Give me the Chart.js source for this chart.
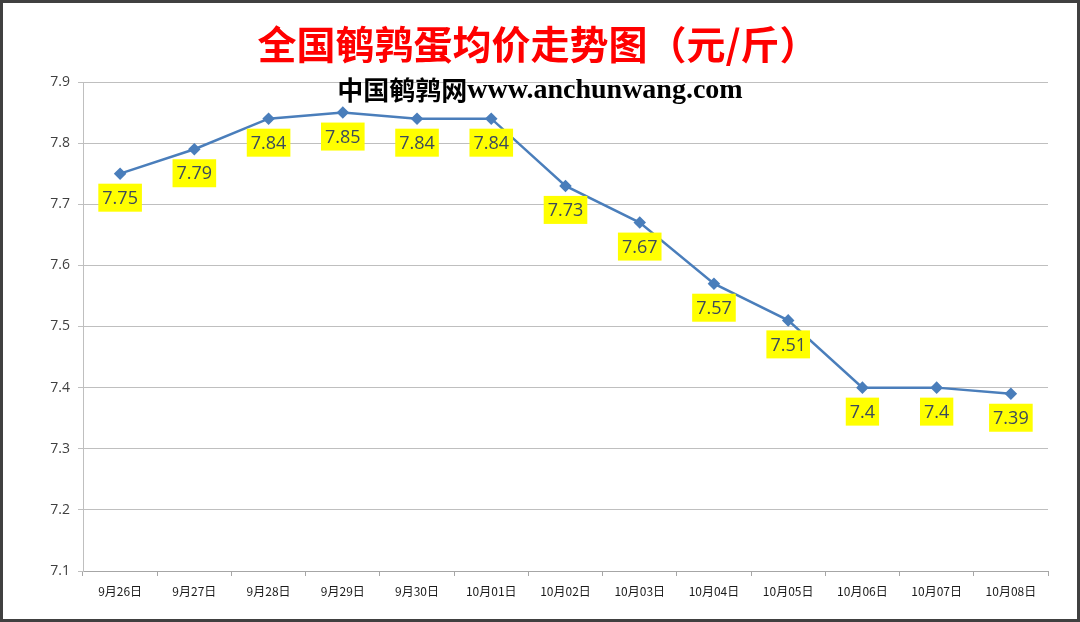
<!DOCTYPE html>
<html>
<head>
<meta charset="utf-8">
<script src="https://cdn.jsdelivr.net/npm/chart.js@4"></script>
<style>
  html, body { margin: 0; padding: 0; background: #fff; }
  #caja { width: 1080px; height: 622px; position: relative; }
</style>
</head>
<body>
<div id="caja"><canvas id="precioChart" width="1080" height="622"></canvas></div>
<script>
const fechas = ['9月26日', '9月27日', '9月28日', '9月29日', '9月30日', '10月01日', '10月02日',
                '10月03日', '10月04日', '10月05日', '10月06日', '10月07日', '10月08日'];
const precios = [7.75, 7.79, 7.84, 7.85, 7.84, 7.84, 7.73, 7.67, 7.57, 7.51, 7.4, 7.4, 7.39];
const ejeY = [7.1, 7.2, 7.3, 7.4, 7.5, 7.6, 7.7, 7.8, 7.9];

const titulo = '全国鹌鹑蛋均价走势图（元/斤）';
const sitioCn = '中国鹌鹑网';
const sitioWeb = 'www.anchunwang.com';

// etiquetas amarillas bajo cada punto + titulos + marco
const extras = {
    id: 'extras',
    afterDatasetsDraw(chart) {
        const ctx = chart.ctx;
        const meta = chart.getDatasetMeta(0);
        ctx.save();
        ctx.font = '18px "Open Sans", "Noto Sans", sans-serif';
        ctx.textAlign = 'center';
        ctx.textBaseline = 'middle';
        meta.data.forEach((p, i) => {
            const txt = String(precios[i]);
            const w = ctx.measureText(txt).width + 8;
            const h = 28;
            const cy = p.y + 24;
            ctx.fillStyle = '#ffff00';
            ctx.fillRect(p.x - w / 2, cy - h / 2, w, h);
            ctx.fillStyle = '#3b4a5c';
            ctx.fillText(txt, p.x, cy + 1);
        });
        ctx.restore();
    },
    afterDraw(chart) {
        const ctx = chart.ctx;
        ctx.save();
        ctx.textBaseline = 'middle';
        ctx.textAlign = 'center';
        ctx.fillStyle = '#ff0000';
        ctx.font = 'bold 39px "Noto Sans CJK SC", sans-serif';
        ctx.fillText(titulo, 538, 44);

        ctx.textAlign = 'left';
        ctx.fillStyle = '#000';
        ctx.font = 'bold 26px "Noto Sans CJK SC", sans-serif';
        const wCn = ctx.measureText(sitioCn).width;
        ctx.font = 'bold 28px "Liberation Serif", serif';
        const wWeb = ctx.measureText(sitioWeb).width;
        const x = 540 - (wCn + wWeb) / 2;
        ctx.font = 'bold 26px "Noto Sans CJK SC", sans-serif';
        ctx.fillText(sitioCn, x, 90);
        ctx.font = 'bold 28px "Liberation Serif", serif';
        ctx.fillText(sitioWeb, x + wCn, 91);

        ctx.strokeStyle = '#404040';
        ctx.lineWidth = 3;
        ctx.strokeRect(1.5, 1.5, chart.width - 3, chart.height - 3);
        ctx.restore();
    }
};

const precioCtx = document.getElementById('precioChart').getContext('2d');
const precioChart = new Chart(precioCtx, {
    type: 'line',
    data: {
        labels: fechas,
        datasets: [{
            data: precios,
            borderColor: '#4a7ebb',
            backgroundColor: '#4a7ebb',
            borderWidth: 2.5,
            pointStyle: 'rectRot',
            pointRadius: 4.5,
            pointHoverRadius: 4.5,
            tension: 0
        }]
    },
    options: {
        responsive: false,
        animation: false,
        layout: { padding: { left: 0, right: 32, top: 82, bottom: 0 } },
        plugins: {
            legend: { display: false },
            tooltip: { enabled: false },
            title: { display: false }
        },
        scales: {
            x: {
                offset: true,
                grid: { drawOnChartArea: false, drawTicks: true, tickLength: 5, offset: true, color: '#a6a6a6' },
                border: { color: '#a6a6a6' },
                ticks: {
                    color: '#1a1a1a',
                    font: { family: '"Noto Sans CJK SC", sans-serif', size: 12 },
                    padding: 8,
                    maxRotation: 0,
                    autoSkip: false
                },
                afterFit(scale) { scale.height = 51; }
            },
            y: {
                min: 7.1,
                max: 7.9,
                afterBuildTicks(scale) { scale.ticks = ejeY.map(v => ({ value: v })); },
                grid: { color: '#bfbfbf', tickLength: 5 },
                border: { color: '#bfbfbf' },
                ticks: {
                    color: '#404040',
                    font: { family: '"Open Sans", sans-serif', size: 14 },
                    padding: 8,
                    callback: v => v.toFixed(1)
                },
                afterFit(scale) { scale.width = 83; }
            }
        }
    },
    plugins: [extras]
});
</script>
</body>
</html>
